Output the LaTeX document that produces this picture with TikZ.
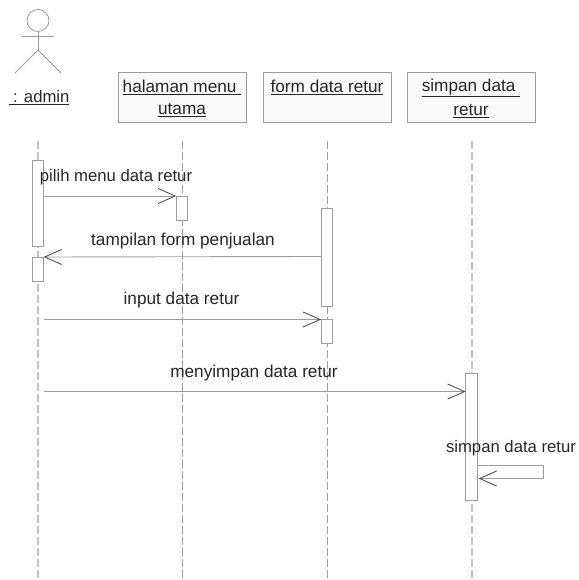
\documentclass[tikz,border=0pt]{standalone}
\usepackage{fontspec}
\setmainfont{Liberation Sans}
\usetikzlibrary{arrows.meta}
\definecolor{txt}{HTML}{262626}
\definecolor{ln}{HTML}{9C9C9C}
\definecolor{lnlight}{HTML}{C4C4C4}
\definecolor{headc}{HTML}{505050}
\definecolor{boxfill}{HTML}{FAFAFA}
\newcommand\objline[1]{\strut\raisebox{-2pt}{\underline{#1}}}
\tikzset{
  every node/.style={text=txt,font=\fontsize{17.2}{22}\selectfont,inner sep=0pt,outer sep=0pt},
  objbox/.style={draw=ln,line width=0.9pt,fill=boxfill,minimum width=128pt,minimum height=50pt,align=center},
  activation/.style={draw=ln,line width=0.9pt,fill=white,minimum width=11.5pt},
  lifeline/.style={draw=ln,line width=0.7pt,dash pattern=on 8pt off 3pt},
  lifelinelight/.style={draw=lnlight,line width=1.1pt,dash pattern=on 8pt off 3pt},
  msg/.style={draw=ln,line width=0.9pt,-{Straight Barb[length=17pt,width=15pt,line width=0.9pt,color=headc]}},
  actorline/.style={draw=ln,line width=0.8pt},
  msglabel/.style={anchor=base},
  msgtight/.style={anchor=base,font=\fontsize{16.7}{22}\selectfont}
}
\begin{document}
\begin{tikzpicture}[x=1pt,y=-1pt]
\useasboundingbox (0,0) rectangle (578,580);
% lifeline ends
\coordinate (l1t) at (38,141);   \coordinate (l1b) at (38,580);
\coordinate (l2t) at (182.5,141);\coordinate (l2b) at (182.5,580);
\coordinate (l3t) at (327.5,141);\coordinate (l3b) at (327.5,580);
\coordinate (l4t) at (472,141);  \coordinate (l4b) at (472,580);
\draw[lifelinelight] (l1t) -- (l1b);
\draw[lifeline] (l2t) -- (l2b);
\draw[lifeline] (l3t) -- (l3b);
\draw[lifelinelight] (l4t) -- (l4b);
% actor
\node[draw=ln,line width=0.8pt,circle,minimum size=22pt] (head) at (38,20.5) {};
\coordinate (hip) at (38,50);
\coordinate (armL) at (22,36); \coordinate (armR) at (54,36);
\coordinate (legL) at (15,73); \coordinate (legR) at (61,73);
\draw[actorline] (head.south) -- (hip);
\draw[actorline] (armL) -- (armR);
\draw[actorline] (legL) -- (hip) -- (legR);
\node[msgtight] (admin) at (39,103) {\underline{\ : admin}};
% objects
\node[objbox] (o2) at (182,97) {\objline{halaman menu\ }\\\objline{utama}};
\node[objbox] (o3) at (327,97) {\objline{form data retur}\\\strut};
\node[objbox] (o4) at (471,97) {\objline{simpan data\ }\\\objline{retur}};
% activations
\node[activation,minimum height=86pt] (a1) at (37.75,203) {};
\node[activation,minimum height=24pt] (a1b) at (37.75,269) {};
\node[activation,minimum height=24pt] (a2) at (182,208) {};
\node[activation,minimum height=98pt] (a3) at (327,257) {};
\node[activation,minimum height=24pt] (a3b) at (327,331.5) {};
\node[activation,minimum height=127pt] (a4) at (471.5,436.5) {};
% messages
\coordinate (m1) at (44,196);
\draw[msg] (m1) -- (a2.north west);
\coordinate (m2) at (321,256.5);
\draw[msg] (m2) -- (a1b.north east);
\coordinate (m3) at (44,319.5);
\draw[msg] (m3) -- (a3b.north west);
\coordinate (m4) at (44,391.5);
\draw[msg] (m4) -- (a4.west |- m4);
\coordinate (s1) at (478,465.5);
\coordinate (s2) at (543.5,465.5);
\coordinate (s3) at (543.5,478.5);
\coordinate (s4) at (478.5,478.5);
\draw[msg] (s1) -- (s2) -- (s3) -- (s4);
% labels
\node[msgtight] (t1) at (116,182) {pilih menu data retur};
\node[msglabel] (t2) at (183,245.5) {tampilan form penjualan};
\node[msglabel] (t3) at (181.5,304) {input data retur};
\node[msglabel] (t4) at (254,377.5) {menyimpan data retur};
\node[msgtight] (t5) at (511,452) {simpan data retur};
\end{tikzpicture}
\end{document}
